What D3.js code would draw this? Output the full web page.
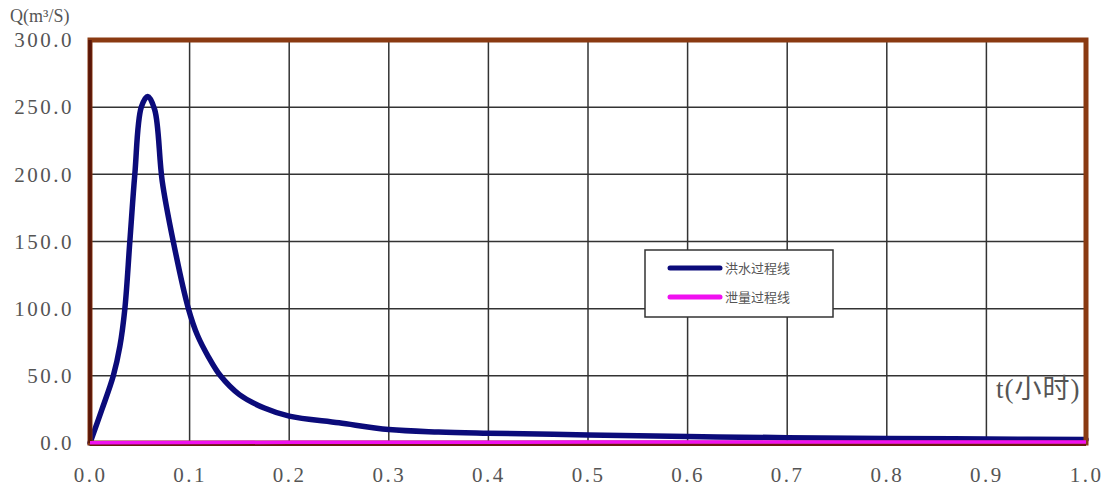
<!DOCTYPE html>
<html><head><meta charset="utf-8">
<script src="https://cdn.jsdelivr.net/npm/d3@7"></script>
<style>
html,body{margin:0;padding:0;background:#fff;}
svg{display:block;}
</style></head>
<body>
<svg id="chart" width="1110" height="491"></svg>
<script>
// ---- data ----
const xTicks = [0,0.1,0.2,0.3,0.4,0.5,0.6,0.7,0.8,0.9,1.0];
const yTicks = [0,50,100,150,200,250,300];
const floodT = [0,0.012,0.0234,0.030,0.035,0.040,0.045,0.0515,0.058,0.065,0.0725,0.0836,0.0988,0.108,0.119,0.131,0.150,0.175,0.200,0.250,0.300,0.350,0.400,0.500,0.600,0.700,0.800,0.900,1.000];
const floodQ = [0,25,50,72,100,150,200,250,258,248,195,150,100,80,64,50,36,26,20,15,10,8.2,7.3,6,4.8,4.0,3.4,3.0,2.6];
const outT = [0,0.1,0.2,0.3,0.4,0.5,0.6,0.7,0.8,0.9,1.0];
const outQ = [0.2,0.4,0.5,0.6,0.6,0.7,0.7,0.7,0.8,0.8,0.8];
const legendNames = ["洪水过程线","泄量过程线"];
const seriesColors = ["#0b0b7a","#f010f0"];

const svg = d3.select("#chart");
const L=90, R=1086, T=40, B=443;
const x = d3.scaleLinear().domain([0,1]).range([L,R]);
const y = d3.scaleLinear().domain([0,300]).range([B,T]);

// grid
svg.append("g").selectAll("line").data(xTicks.slice(1,-1)).join("line")
  .attr("x1",d=>x(d)).attr("x2",d=>x(d)).attr("y1",T).attr("y2",B)
  .attr("stroke","#333").attr("stroke-width",1.5);
svg.append("g").selectAll("line").data(yTicks.slice(1,-1)).join("line")
  .attr("x1",L).attr("x2",R).attr("y1",d=>y(d)).attr("y2",d=>y(d))
  .attr("stroke","#333").attr("stroke-width",1.5);

// axes labels (using d3 axes, no domain/ticks)
const fmt = d3.format(".1f");
const yAxis = svg.append("g").attr("transform",`translate(${L},0)`)
  .call(d3.axisLeft(y).tickValues(yTicks).tickFormat(fmt).tickSize(0).tickPadding(16));
const xAxis = svg.append("g").attr("transform",`translate(0,${B})`)
  .call(d3.axisBottom(x).tickValues(xTicks).tickFormat(fmt).tickSize(0).tickPadding(24));
[yAxis,xAxis].forEach(a=>{
  a.select(".domain").remove();
  a.selectAll("text").attr("fill","#555").style("font-family","'Liberation Serif','DejaVu Serif',serif")
   .style("font-size","21px").style("letter-spacing","2.5px");
});

// series
const line = d3.line().x(d=>x(d[0])).y(d=>y(d[1])).curve(d3.curveCatmullRom.alpha(0.5));
const outLine = d3.line().x(d=>x(d[0])).y(d=>y(d[1]));
svg.append("path").datum(floodT.map((t,i)=>[t,floodQ[i]])).attr("d",line)
  .attr("fill","none").attr("stroke",seriesColors[0]).attr("stroke-width",5.5)
  .attr("stroke-linejoin","round").attr("stroke-linecap","round");

// frame
svg.append("rect").attr("x",L).attr("y",T).attr("width",R-L).attr("height",B-T)
  .attr("fill","none").attr("stroke","#8a3a12").attr("stroke-width",5);
svg.append("line").attr("x1",L).attr("x2",L).attr("y1",T).attr("y2",B)
  .attr("stroke","#5a1608").attr("stroke-width",3.5);
svg.append("line").attr("x1",L).attr("x2",R).attr("y1",B+2).attr("y2",B+2)
  .attr("stroke","#6a1a10").attr("stroke-width",2);
// outflow line over bottom border
svg.append("path").datum(outT.map((t,i)=>[t,outQ[i]])).attr("d",outLine)
  .attr("fill","none").attr("stroke",seriesColors[1]).attr("stroke-width",3.5);

// legend
const lg = svg.append("g");
lg.append("rect").attr("x",645).attr("y",250).attr("width",188).attr("height",67)
  .attr("fill","#fff").attr("stroke","#333").attr("stroke-width",1.5);
legendNames.forEach((n,i)=>{
  const yy = 268 + i*29;
  lg.append("line").attr("x1",670).attr("x2",720).attr("y1",yy).attr("y2",yy)
    .attr("stroke",seriesColors[i]).attr("stroke-width",5).attr("stroke-linecap","round");
  lg.append("text").attr("x",725).attr("y",yy+5).text(n)
    .attr("fill","#555").style("font-family","'Noto Sans CJK SC',sans-serif").style("font-size","13px");
});

// titles
svg.append("text").attr("x",10).attr("y",22).text("Q(m³/S)")
  .attr("fill","#555").style("font-family","'Liberation Serif','DejaVu Serif',serif").style("font-size","18px");
svg.append("text").attr("x",996).attr("y",398).text("t(小时)")
  .attr("fill","#555").style("font-family","'Liberation Serif','Noto Sans CJK SC',serif").style("font-size","27px")
  .style("letter-spacing","1px");
</script>
</body></html>
